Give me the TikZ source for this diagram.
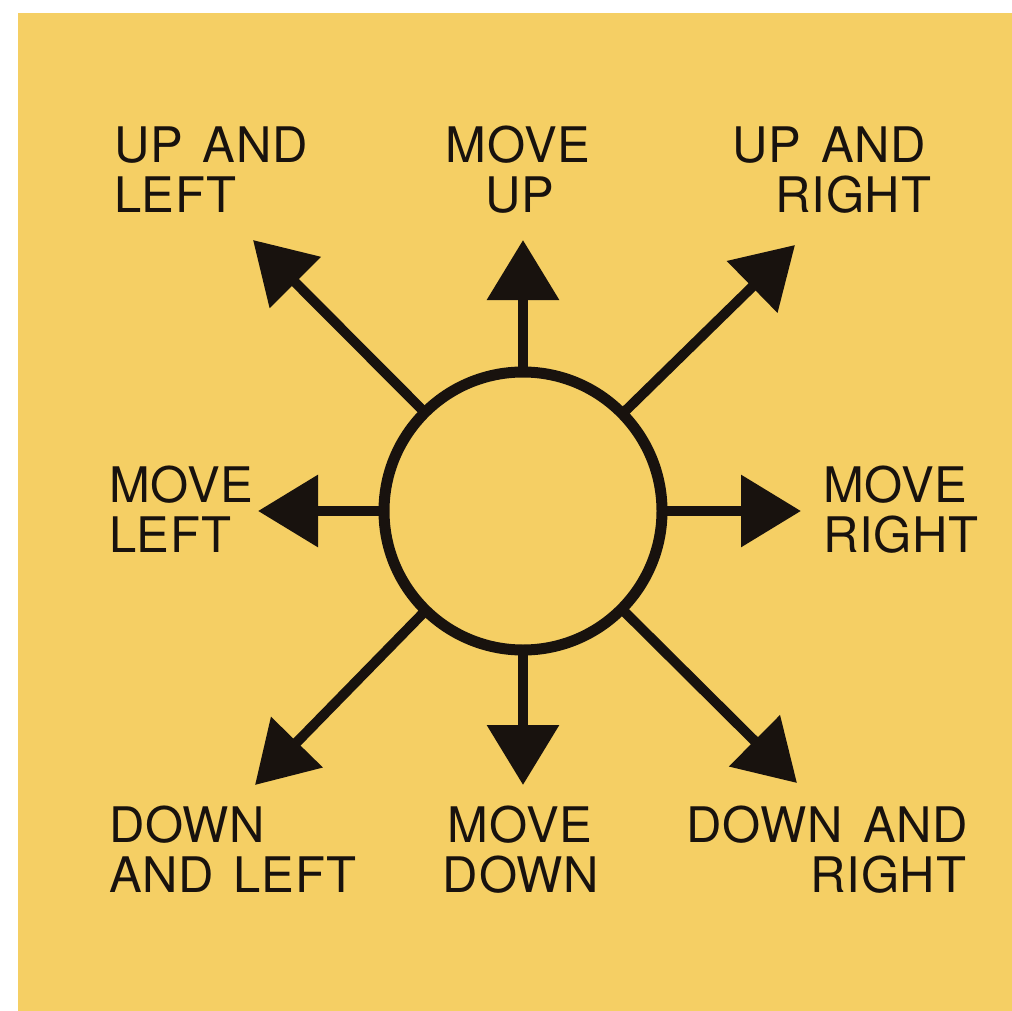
\documentclass[tikz,border=0pt]{standalone}
\usepackage{fontspec}
\setmainfont[WordSpace=1.4,LetterSpace=1.5]{TeX Gyre Heros}
\usetikzlibrary{arrows.meta}
\definecolor{bgyellow}{RGB}{245,207,100}
\definecolor{ink}{RGB}{24,18,14}
\tikzset{
  arr/.style={draw=ink, line width=10pt, -{Triangle[length=60pt,width=70pt]}},
  lbl/.style={inner sep=0pt, outer sep=0pt, text=ink, font=\fontsize{49}{50}\selectfont},
}
\begin{document}
\begin{tikzpicture}[x=1pt,y=-1pt]
\useasboundingbox (0,0) rectangle (1012,1011);
\fill[white] (0,0) rectangle (1012,1011);
\fill[bgyellow] (18,13) rectangle (1030,1030);

% central circle
\node[circle, draw=ink, line width=11pt, minimum size=278pt, inner sep=0pt, outer sep=0pt] (c) at (523,511) {};

% arrow tips
\coordinate (tu) at (523,240);
\coordinate (td) at (523,785);
\coordinate (tl) at (258,511);
\coordinate (tr) at (801,511);
\coordinate (tul) at (253,240);
\coordinate (tur) at (795,245);
\coordinate (tdl) at (255,785);
\coordinate (tdr) at (797,783);

\draw[arr] (c) -- (tu);
\draw[arr] (c) -- (td);
\draw[arr] (c) -- (tl);
\draw[arr] (c) -- (tr);
\draw[arr] (c) -- (tul);
\draw[arr] (c) -- (tur);
\draw[arr] (c) -- (tdl);
\draw[arr] (c) -- (tdr);

% labels
\node[lbl, anchor=base west] (ul1) at (114,163) {UP AND};
\node[lbl, anchor=base west] (ul2) at (114,213) {LEFT};

\node[lbl, anchor=base] (u1) at (518,163) {MOVE};
\node[lbl, anchor=base] (u2) at (520,213) {UP};

\node[lbl, anchor=base east] (ur1) at (926,163) {UP AND};
\node[lbl, anchor=base east] (ur2) at (931,213) {RIGHT};

\node[lbl, anchor=base west] (l1) at (109,502) {MOVE};
\node[lbl, anchor=base west] (l2) at (109,552) {LEFT};

\node[lbl, anchor=base west] (r1) at (823,502) {MOVE};
\node[lbl, anchor=base west] (r2) at (823,552) {RIGHT};

\node[lbl, anchor=base west] (dl1) at (109,842) {DOWN};
\node[lbl, anchor=base west] (dl2) at (109,892) {AND LEFT};

\node[lbl, anchor=base] (d1) at (520,842) {MOVE};
\node[lbl, anchor=base] (d2) at (521,892) {DOWN};

\node[lbl, anchor=base east] (dr1) at (968,842) {DOWN AND};
\node[lbl, anchor=base east] (dr2) at (966,892) {RIGHT};
\end{tikzpicture}
\end{document}
